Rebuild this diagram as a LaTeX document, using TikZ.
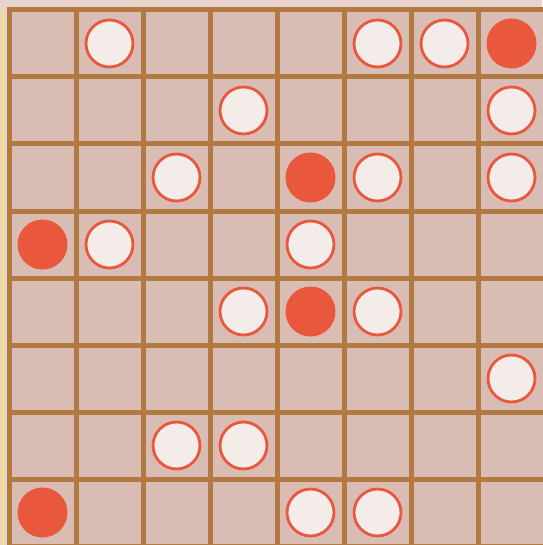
\documentclass[tikz,border=0pt]{standalone}
\usepackage{tikz}

\definecolor{paper}{HTML}{E8D4CC}
\definecolor{cell}{HTML}{D9BDB5}
\definecolor{rule}{HTML}{B27A42}
\definecolor{stone}{HTML}{E9573D}
\definecolor{blank}{HTML}{F3ECE9}

\begin{document}
\begin{tikzpicture}[x=1pt,y=-1pt]
  \useasboundingbox (0,0) rectangle (542,545);
  \fill[paper] (0,0) rectangle (542,545);
  \fill[cell] (9,10) rectangle (545,546);
  \draw[yellow!50!paper,line width=1.5pt] (3,10) -- (3,545);

  % board lines
  \foreach \i in {0,...,8} {
    \draw[rule,line width=5pt] ({9+67*\i},7.5) -- ({9+67*\i},548);
    \draw[rule,line width=5pt] (6.5,{10+67*\i}) -- (548,{10+67*\i});
  }

  % open rings (column/row)
  \foreach \c/\r in {2/1,6/1,7/1,4/2,8/2,3/3,6/3,8/3,2/4,5/4,
                     4/5,6/5,8/6,3/7,4/7,5/8,6/8} {
    \draw[stone,fill=blank,line width=2.8pt]
      ({9+67*\c-33.5},{10+67*\r-33.5}) circle (23.5);
  }

  % solid stones
  \foreach \c/\r in {8/1,5/3,1/4,5/5,1/8} {
    \fill[stone] ({9+67*\c-33.5},{10+67*\r-33.5}) circle (25);
  }
\end{tikzpicture}
\end{document}
